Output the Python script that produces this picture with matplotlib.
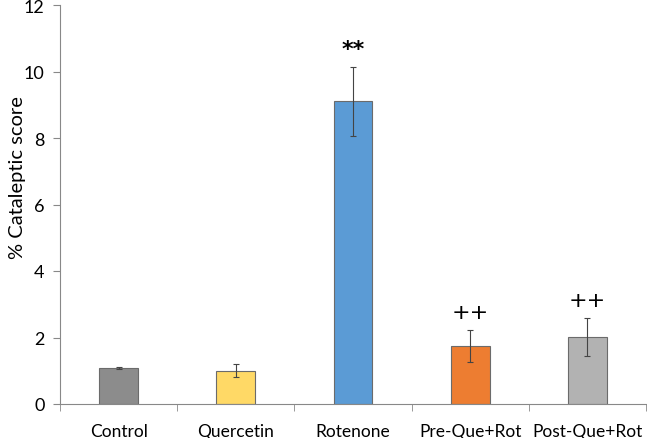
import numpy as np
from matplotlib import pyplot as plt

groups = ['Control', 'Quercetin', 'Rotenone', 'Pre-Que+Rot', 'Post-Que+Rot']
scores = [1.08, 1.0, 9.1, 1.74, 2.01]
errors = [0.04, 0.2, 1.04, 0.49, 0.57]
marks = ['', '', '**', '++', '++']
colors = ['#8c8c8c', '#ffd966', '#5b9bd5', '#ed7d31', '#b2b2b2']

plt.rcParams['font.family'] = ['Lato', 'DejaVu Sans']

fig = plt.figure(figsize=(6.47, 4.39), dpi=100)
ax = fig.add_axes([60 / 647, 1 - 405 / 439, 586 / 647, 399 / 439])

x = np.arange(len(groups))
ax.bar(x, scores, width=0.33, color=colors, edgecolor='#6b6b6b', linewidth=0.8, zorder=2)
ax.errorbar(x, scores, yerr=errors, fmt='none', ecolor='#444444', elinewidth=0.8,
            capsize=2, capthick=0.8, zorder=3)

# significance marks above the error bars
for i in range(len(groups)):
    if marks[i]:
        ax.text(x[i], scores[i] + errors[i] + 0.25, marks[i], ha='center', va='bottom',
                fontsize=16, color='black', family='DejaVu Sans',
                fontweight='bold' if marks[i] == '**' else 'normal')

ax.set_xlim(-0.5, len(groups) - 0.5)
ax.set_ylim(0, 12)
ax.set_yticks(range(0, 13, 2))
ax.set_xticks(x)
ax.set_xticklabels(groups, fontsize=12.5)
ax.set_xticks(np.arange(-0.5, len(groups), 1), minor=True)
ax.tick_params(axis='x', which='major', length=0, pad=14)
ax.tick_params(axis='x', which='minor', length=5, color='#888888')
ax.tick_params(axis='y', length=5, color='#888888', labelsize=13, pad=6)
ax.set_ylabel('% Cataleptic score', fontsize=14.5)
ax.yaxis.set_label_coords(-0.058, 0.57)

for s in ['top', 'right']:
    ax.spines[s].set_visible(False)
ax.spines['left'].set_color('#888888')
ax.spines['bottom'].set_color('#888888')

plt.savefig('out.png', dpi=100)
